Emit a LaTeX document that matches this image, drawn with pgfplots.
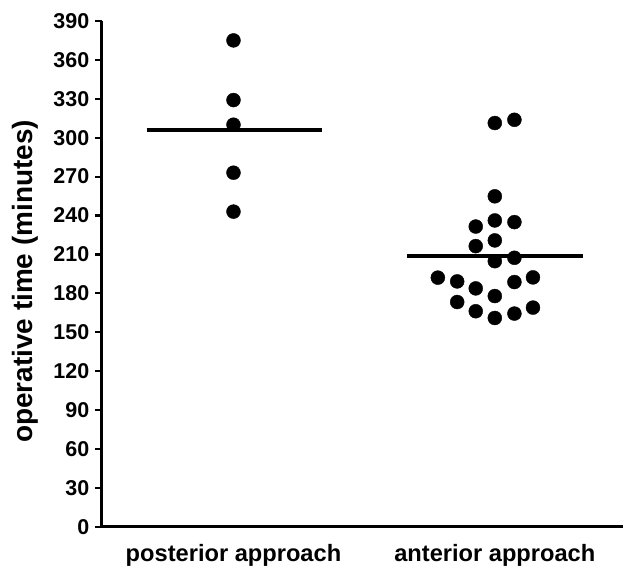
\documentclass[border=0pt]{standalone}
\usepackage{pgfplots}
\pgfplotsset{compat=1.18}
\usepackage{fontspec}
\setmainfont{Liberation Sans}

\begin{document}
\begin{tikzpicture}
\begin{axis}[
scale only axis,
width=522pt,
height=507pt,
xmin=0.496, xmax=2.489,
ymin=0, ymax=390,
clip=false,
axis lines*=left,
axis line style={line width=2.8pt, -},
xtick={1,2},
xticklabels={{posterior approach},{anterior approach}},
x tick style={draw=none},
xticklabel style={font=\bfseries\fontsize{23.7}{27}\selectfont, yshift=-7pt},
ytick={0,30,...,390},
tick align=outside,
major tick length=7pt,
y tick style={line width=2.2pt, black},
yticklabel style={font=\bfseries\fontsize{21.5}{24}\selectfont, xshift=-2pt},
/pgf/number format/assume math mode=true,
]
% posterior approach
\addplot[only marks, mark=*, mark size=7pt, black] coordinates {
(1,375) (1,329) (1,310) (1,273) (1,243)
};
% anterior approach
\addplot[only marks, mark=*, mark size=7pt, black] coordinates {
(2.000,311.3) (2.000,254.8) (2.000,236.2) (2.000,220.8) (2.000,204.8) (2.000,177.9) (2.000,161.0)
(2.075,313.8) (2.075,234.9) (2.075,207.4) (2.075,188.7) (2.075,164.4)
(1.927,231.5) (1.927,216.4) (1.927,183.8) (1.927,166.2)
(1.856,189.2) (1.856,173.3)
(1.782,192.1)
(2.146,192.3) (2.146,169.0)
};
% means
\addplot[black, line width=4pt] coordinates {(0.668,306) (1.340,306)};
\addplot[black, line width=4pt] coordinates {(1.664,209) (2.336,209)};
\node[rotate=90, font=\bfseries\fontsize{28}{32}\selectfont] at ([xshift=-76.5pt]rel axis cs:0,0.485) {operative time (minutes)};
\path ([xshift=-102pt,yshift=-39pt]rel axis cs:0,0) rectangle ([yshift=21pt]rel axis cs:1,1);
\end{axis}
\end{tikzpicture}
\end{document}
